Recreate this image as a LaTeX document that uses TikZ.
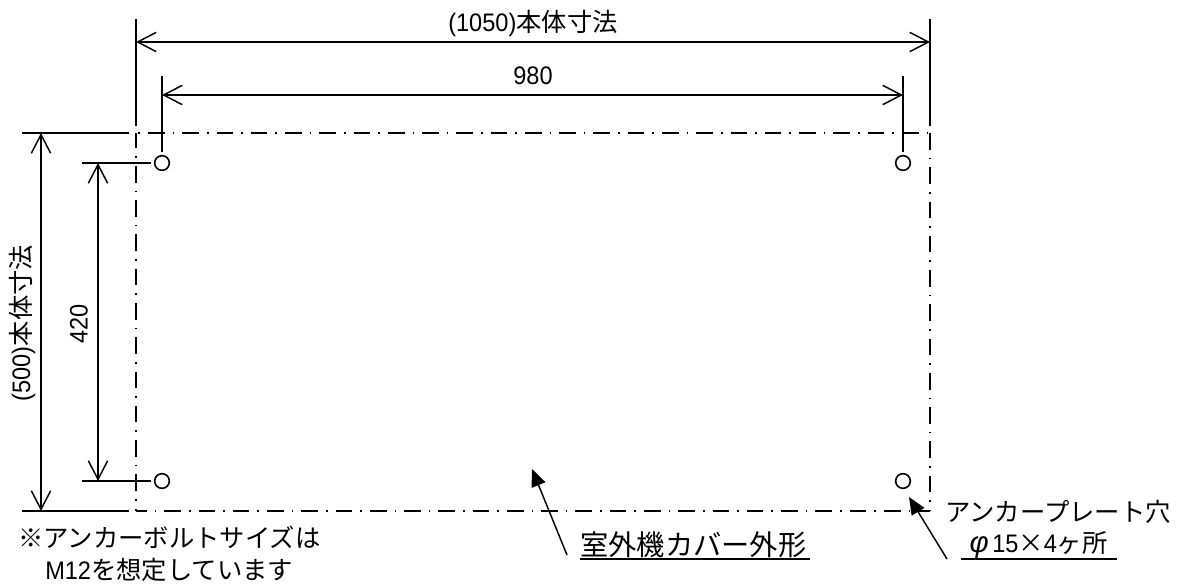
\documentclass[tikz,border=0pt]{standalone}
\usepackage{fontspec}
\usetikzlibrary{arrows.meta}
\setmainfont{Noto Sans CJK JP}
\newfontfamily\latn[FakeStretch=0.93]{Liberation Sans}
\newfontfamily\phifont{Liberation Sans Italic}
\newcommand{\lt}[1]{{\latn\fontsize{19pt}{19pt}\selectfont #1}}
\tikzset{
 dim/.style={line width=1.1pt,{Straight Barb[length=14pt,width=14.5pt,line width=1.1pt]}-{Straight Barb[length=14pt,width=14.5pt,line width=1.1pt]}},
 ext/.style={line width=1.3pt},
 chain/.style={line width=1.3pt,dash pattern=on 12.5pt off 6pt on 1.2pt off 6pt},
 hole/.style={circle,draw,line width=1.2pt,minimum size=11pt,inner sep=0pt},
 leader/.style={line width=1.1pt,-{Triangle[length=13pt,width=11pt]}},
 lab/.style={inner sep=0pt,font=\fontsize{19pt}{19pt}\selectfont},
 ul/.style={line width=2pt}
}
\begin{document}
\begin{tikzpicture}[x=0.75pt,y=-0.75pt]
\useasboundingbox (0,0) rectangle (1188,585);
\coordinate (tl) at (136,133);\coordinate (tr) at (930,133);\coordinate (br) at (930,511);\coordinate (bl) at (136,511);
\draw[chain,dash phase=16.7pt] (tl)--(tr);
\draw[chain,dash phase=4.5pt] (bl)--(br);
\draw[chain,dash phase=1pt] (tl)--(bl);
\draw[chain,dash phase=0pt] (tr)--(br);
\node[hole] (h1) at (162,163) {};
\node[hole] (h2) at (903,163) {};
\node[hole] (h3) at (162,481) {};
\node[hole] (h4) at (903,481) {};
\coordinate (e1a) at (136,19);\coordinate (e1b) at (136,126);
\coordinate (e2a) at (930,19);\coordinate (e2b) at (930,126);
\draw[ext] (e1a)--(e1b);
\draw[ext] (e2a)--(e2b);
\coordinate (e3a) at (162,76);\coordinate (e4a) at (903,76);
\draw[ext,shorten >=2pt] (e3a)--(h1);
\draw[ext,shorten >=2pt] (e4a)--(h2);
\coordinate (e5a) at (22,133);\coordinate (e5b) at (129,133);
\coordinate (e6a) at (22,511);\coordinate (e6b) at (129,511);
\draw[ext] (e5a)--(e5b);
\draw[ext] (e6a)--(e6b);
\coordinate (e7a) at (82,163);\coordinate (e8a) at (82,481);
\draw[ext,shorten >=2pt] (e7a)--(h1);
\draw[ext,shorten >=2pt] (e8a)--(h3);
\coordinate (d1a) at (136,42);\coordinate (d1b) at (930,42);
\coordinate (d2a) at (162,95);\coordinate (d2b) at (903,95);
\coordinate (d3a) at (41,133);\coordinate (d3b) at (41,511);
\coordinate (d4a) at (98,163);\coordinate (d4b) at (98,481);
\draw[dim] (d1a)--(d1b);
\draw[dim] (d2a)--(d2b);
\draw[dim] (d3a)--(d3b);
\draw[dim] (d4a)--(d4b);
\node[lab] (t1) at (533,23) {\lt{(1050)}本体寸法};
\node[lab] (t2) at (533,76) {\lt{980}};
\node[lab,rotate=90] (t3) at (22,323) {\lt{(500)}本体寸法};
\node[lab,rotate=90] (t4) at (79,324) {\lt{420}};
\node[lab,anchor=west] (n1) at (18,537) {※アンカーボルトサイズは};
\node[lab,anchor=west] (n2) at (45,570) {\lt{M12}を想定しています};
\node[lab,anchor=west,font=\fontsize{21.2pt}{21.2pt}\selectfont] (n3) at (580,545) {室外機カバー外形};
\node[lab,anchor=west] (n4) at (945,512) {アンカープレート穴};
\node[lab,anchor=west] (n5) at (966,545) {\makebox[19.5pt]{\phifont\fontsize{22pt}{22pt}\selectfont φ}\lt{15}×\lt{4}ヶ所};
\coordinate (u1a) at (580,559);\coordinate (u1b) at (810,559);
\coordinate (u2a) at (961,559);\coordinate (u2b) at (1117,559);
\draw[ul] (u1a)--(u1b);
\draw[ul] (u2a)--(u2b);
\coordinate (l1) at (567,555);\coordinate (a1) at (532,469);
\coordinate (l2) at (947,559);\coordinate (a2) at (909,497);
\draw[leader] (l1)--(a1);
\draw[leader] (l2)--(a2);
\end{tikzpicture}
\end{document}
